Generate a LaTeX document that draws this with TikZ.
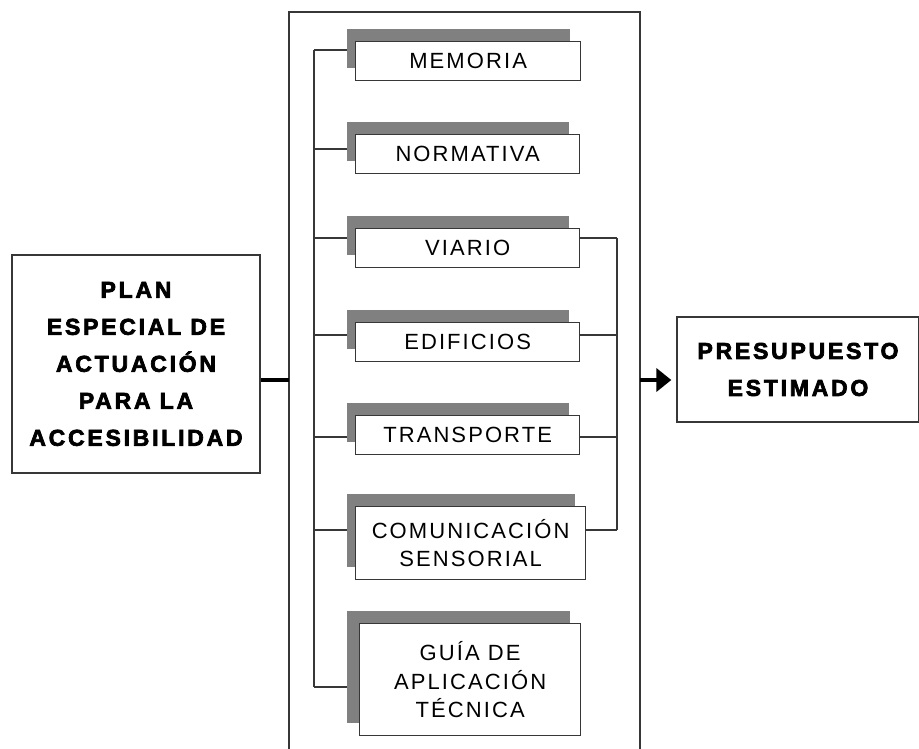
\documentclass[tikz,border=0pt]{standalone}
\usepackage{fontspec}
\usepackage{xcolor}
\usepackage{tikz}
\usetikzlibrary{arrows.meta, positioning}

\newfontfamily\itemfont[LetterSpace=9.5]{Liberation Sans}
\newfontfamily\titlefont[LetterSpace=12, FakeBold=3]{Liberation Sans Bold}

\definecolor{shadegray}{RGB}{128,128,128}
\definecolor{edgegray}{RGB}{55,55,55}

\begin{document}
\begin{tikzpicture}[
            x=1pt, y=-1pt,
            item/.style={rectangle, draw=edgegray, line width=1.3pt, fill=white, inner sep=0pt, anchor=north west, align=center, font=\itemfont\fontsize{22}{28.5}\selectfont},
            shadowbox/.style={rectangle, fill=shadegray, inner sep=0pt, anchor=north west},
            title/.style={rectangle, draw=edgegray, line width=1.3pt, fill=white, inner sep=0pt, align=center, font=\titlefont\fontsize{23}{37}\selectfont},
            link/.style={draw=edgegray, line width=1.3pt},
            arrow/.style={-{Triangle[length=15pt, width=23pt]}, line width=4.5pt}
        ]

        \useasboundingbox (0,0) rectangle (919,749);

        % Plan
        \node[title, minimum width=248, minimum height=218] (plan) at (136,364) {PLAN\\ESPECIAL DE\\ACTUACIÓN\\PARA LA\\ACCESIBILIDAD};

        % Presupuesto
        \node[title, minimum width=242, minimum height=105] (budget) at (798,369.5) {PRESUPUESTO\\ESTIMADO};

        % Panel
        \coordinate (panel-sw) at (289,752);
        \coordinate (panel-ne) at (640,12);
        \draw[link] (panel-sw) |- (panel-ne) -- (panel-ne |- panel-sw);
        \coordinate (panel-in) at (289,380);
        \coordinate (panel-out) at (640,380);

        % Documentos
        \foreach \name/\left/\top/\right/\bottom/\tick/\txt in {
                mem/355/41/580/80/50/MEMORIA,
                nor/355/134/579/173/149/NORMATIVA,
                via/355/228/579/267/238/VIARIO,
                edi/355/322/579/361/335/EDIFICIOS,
                tra/355/415/579/454/437/TRANSPORTE,
                com/355/506/585/579/530/{COMUNICACIÓN\\SENSORIAL},
                gui/359/623/580/735/687/{GUÍA DE\\APLICACIÓN\\TÉCNICA}} {
            \node[shadowbox, minimum width=\right-357, minimum height=\bottom-\top] (\name-s) at (347,\top-12) {};
            \node[item, minimum width=\right-\left, minimum height=\bottom-\top] (\name) at (\left,\top) {\txt};
            \coordinate (\name-t) at (314,\tick);
            \coordinate (\name-r) at (617,\tick);
            \draw[link] (\name-t) -- (\name-t -| \name-s.west);
        }

        % Conexiones
        \draw[link] (mem-t) -- (gui-t);
        \foreach \name in {via, edi, tra, com}
            \draw[link] (\name.east |- \name-r) -- (\name-r);
        \draw[link] (via-r) -- (com-r);
        \draw[line width=4.5pt] (plan.east |- panel-in) -- (panel-in);
        \draw[arrow] (panel-out) -- ([xshift=-5pt]budget.west |- panel-out);

    \end{tikzpicture}
\end{document}
